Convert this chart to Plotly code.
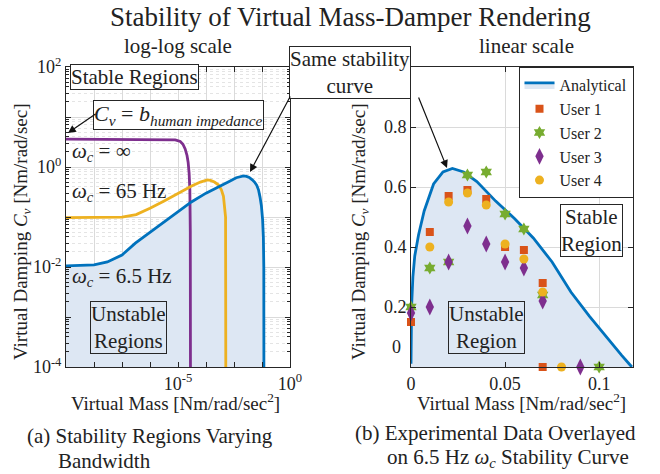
import plotly.graph_objects as go

W, H = 660, 474
FONT = "Liberation Serif"

# ---------------- data ----------------
# Left panel: stability boundaries (virtual mass vs. virtual damping)
mass_6p5hz = [1e-8, 3e-8, 1e-7, 3e-7, 1e-6, 3e-6, 1e-5, 3e-5, 1e-4, 3e-4, 1e-3, 2e-3,
              4e-3, 7e-3, 0.012, 0.017, 0.022, 0.028, 0.035, 0.045, 0.055, 0.065, 0.075,
              0.085, 0.095, 0.105, 0.112, 0.116, 0.1174]
damp_6p5hz = [0.0105, 0.0106, 0.011, 0.0126, 0.0174, 0.030, 0.049, 0.079, 0.129, 0.2, 0.3, 0.37,
              0.44, 0.52, 0.61, 0.65, 0.662, 0.65, 0.618, 0.553, 0.495, 0.43, 0.35,
              0.25, 0.168, 0.09, 0.039, 0.01, 1e-5]

mass_65hz = [1e-8, 1e-7, 1e-6, 3.2e-6, 1e-5, 3.2e-5, 1e-4, 3.2e-4, 6.3e-4, 8.5e-4, 1.12e-3,
             1.45e-3, 2e-3, 2.75e-3, 3.55e-3, 4.2e-3, 4.7e-3, 5.0e-3, 5.12e-3]
damp_65hz = [0.097, 0.097, 0.099, 0.112, 0.15, 0.21, 0.30, 0.42, 0.50, 0.535, 0.55,
             0.54, 0.50, 0.44, 0.35, 0.26, 0.16, 0.10, 1e-5]

mass_inf = [1e-8, 1e-6, 4e-5, 8e-5, 1.2e-4, 1.5e-4, 1.8e-4, 2.1e-4, 2.3e-4, 2.5e-4, 2.65e-4,
            2.75e-4, 2.8e-4]
damp_inf = [3.6, 3.6, 3.6, 3.5, 3.25, 2.85, 2.3, 1.7, 1.25, 0.75, 0.35, 0.05, 1e-5]

# Right panel: experimental data
user1_mass = [0, 0.01, 0.02, 0.03, 0.04, 0.05, 0.06, 0.07, 0.07]
user1_damp = [0.15, 0.45, 0.57, 0.59, 0.56, 0.40, 0.39, 0.28, 0]
user2_mass = [0, 0.01, 0.02, 0.03, 0.04, 0.05, 0.06, 0.07, 0.1]
user2_damp = [0.20, 0.33, 0.35, 0.64, 0.65, 0.51, 0.46, 0.24, 0]
user3_mass = [0, 0.01, 0.02, 0.03, 0.04, 0.05, 0.06, 0.07, 0.09]
user3_damp = [0.18, 0.20, 0.35, 0.47, 0.41, 0.35, 0.33, 0.22, 0]
user4_mass = [0.01, 0.02, 0.03, 0.04, 0.05, 0.06, 0.07, 0.08]
user4_damp = [0.40, 0.55, 0.58, 0.54, 0.41, 0.36, 0.25, 0]

# tick labels
left_y_tickvals = [1e-4, 1e-3, 1e-2, 1e-1, 1e0, 1e1, 1e2]
left_y_ticktext = ["10<sup>-4</sup>", "", "10<sup>-2</sup>", "", "10<sup>0</sup>", "", "10<sup>2</sup>"]
left_x_tickvals = [1e-8, 1e-7, 1e-6, 1e-5, 1e-4, 1e-3, 1e-2, 1e-1, 1e0]
left_x_ticktext = ["", "", "", "", "10<sup>-5</sup>", "", "", "", "10<sup>0</sup>"]
right_x_tickvals = [0, 0.05, 0.1]
right_x_ticktext = ["0", "0.05", "0.1"]
right_y_tickvals = [0, 0.2, 0.4, 0.6, 0.8, 1.0]
right_y_ticktext = ["", "0.2", "0.4", "0.6", "0.8", ""]

# colours
BLUE, ORANGE, YELLOW, PURPLE, GREEN = "#0072BD", "#D95319", "#EDB120", "#7E2F8E", "#77AC30"
SHADE = "#dde7f3"
AXC = "#262626"
GRID = "#dadada"


def px(x):
    return x / W


def py(y):
    return 1 - y / H


fig = go.Figure()

# ---- left panel ----
fig.add_trace(go.Scatter(x=mass_6p5hz, y=damp_6p5hz, mode="lines", fill="tozeroy",
                         fillcolor=SHADE, line=dict(color="rgba(0,0,0,0)", width=0),
                         xaxis="x", yaxis="y", showlegend=False, hoverinfo="skip"))
fig.add_trace(go.Scatter(x=mass_inf, y=damp_inf, mode="lines", line=dict(color=PURPLE, width=2.8),
                         xaxis="x", yaxis="y", showlegend=False))
fig.add_trace(go.Scatter(x=mass_65hz, y=damp_65hz, mode="lines", line=dict(color=YELLOW, width=2.8),
                         xaxis="x", yaxis="y", showlegend=False))
fig.add_trace(go.Scatter(x=mass_6p5hz, y=damp_6p5hz, mode="lines", line=dict(color=BLUE, width=2.8),
                         xaxis="x", yaxis="y", showlegend=False))

# ---- right panel ----
fig.add_trace(go.Scatter(x=mass_6p5hz, y=damp_6p5hz, mode="lines", fill="tozeroy",
                         fillcolor=SHADE, line=dict(color=BLUE, width=2.8),
                         xaxis="x2", yaxis="y2", name="Analytical"))
for name, xs, ys, sym, col, size in [
    ("User 1", user1_mass, user1_damp, "square", ORANGE, 8),
    ("User 2", user2_mass, user2_damp, "hexagram", GREEN, 10),
    ("User 3", user3_mass, user3_damp, "diamond-tall", PURPLE, 12),
    ("User 4", user4_mass, user4_damp, "circle", YELLOW, 9),
]:
    fig.add_trace(go.Scatter(x=xs, y=ys, mode="markers", name=name, cliponaxis=False,
                             marker=dict(symbol=sym, color=col, size=size, line=dict(width=0)),
                             xaxis="x2", yaxis="y2"))

axis_common = dict(showline=True, linecolor=AXC, linewidth=1, mirror="ticks", ticks="inside",
                   ticklen=5, tickcolor=AXC, showgrid=True, gridcolor=GRID, zeroline=False,
                   tickfont=dict(family=FONT, size=18, color="#222"), automargin=False)

fig.update_layout(
    width=W, height=H, margin=dict(l=0, r=0, t=0, b=0),
    paper_bgcolor="white", plot_bgcolor="white",
    font=dict(family=FONT, color="#222"),
    xaxis=dict(type="log", range=[-8, 0], domain=[px(66), px(290)], anchor="y",
               tickmode="array", tickvals=left_x_tickvals, ticktext=left_x_ticktext, **axis_common),
    yaxis=dict(type="log", range=[-4, 2], domain=[py(367), py(67)], anchor="x",
               tickmode="array", tickvals=left_y_tickvals, ticktext=left_y_ticktext,
               minor=dict(ticks="inside", ticklen=3, tickcolor=AXC, showgrid=True,
                          gridcolor="#e4e4e4", griddash="dot", dtick="D1"),
               **axis_common),
    xaxis2=dict(range=[0, 0.118], domain=[px(411), px(633)], anchor="y2",
                tickmode="array", tickvals=right_x_tickvals, ticktext=right_x_ticktext, **axis_common),
    yaxis2=dict(range=[0, 1], domain=[py(367), py(67)], anchor="x2",
                tickmode="array", tickvals=right_y_tickvals, ticktext=right_y_ticktext, **axis_common),
    legend=dict(x=px(633.5), y=py(67), xanchor="right", yanchor="top", bgcolor="white",
                bordercolor=AXC, borderwidth=1, font=dict(family=FONT, size=16, color="#222"),
                itemwidth=30, tracegroupgap=0),
)


def text(t, x, y, size=21, xanchor="center", yanchor="middle", angle=0, **kw):
    d = dict(text=t, x=px(x), y=py(y), xref="paper", yref="paper", showarrow=False,
             xanchor=xanchor, yanchor=yanchor, textangle=angle,
             font=dict(family=FONT, size=size, color="#222"))
    d.update(kw)
    return d


def box(t, x, y, size=21, bg="white", **kw):
    return text(t, x, y, size=size, bgcolor=bg, bordercolor=AXC, borderwidth=1, borderpad=0, **kw)


def arrow(x0, y0, x1, y1):
    return dict(text="", x=px(x1), y=py(y1), xref="paper", yref="paper", showarrow=True,
                ax=x0 - x1, ay=y0 - y1, axref="pixel", ayref="pixel", arrowhead=2,
                arrowsize=1.3, arrowwidth=1.2, arrowcolor="#111", standoff=0)


annotations = [
    text("Stability of Virtual Mass-Damper Rendering", 350, 17, size=27),
    text("log-log scale", 178, 46, size=21),
    text("linear scale", 526, 46, size=21),
    # axis titles
    text("Virtual Mass [Nm/rad/sec<sup>2</sup>]", 175, 402, size=19),
    text("Virtual Mass [Nm/rad/sec<sup>2</sup>]", 521, 402, size=19),
    text("Virtual Damping <i>C</i><sub><i>v</i></sub> [Nm/rad/sec]", 22, 232, size=19, angle=-90),
    text("Virtual Damping <i>C</i><sub><i>v</i></sub> [Nm/rad/sec]", 360, 232, size=19, angle=-90),
    text("0", 396, 347, size=18),
    # captions
    text("(a) Stability Regions Varying", 25, 436, size=21, xanchor="left"),
    text("Bandwidth", 56, 461, size=21, xanchor="left"),
    text("(b) Experimental Data Overlayed", 353, 433, size=21, xanchor="left"),
    text("on 6.5 Hz <i>ω</i><sub><i>c</i></sub> Stability Curve", 385, 458, size=21, xanchor="left"),
    # left panel labels
    box("Stable Regions", 134, 77, size=21),
    box("<i>C</i><sub><i>v</i></sub> = <i>b</i><sub><i>human impedance</i></sub>", 178, 115, size=22),
    box("Unstable<br>Regions", 128, 327, size=21, bg=SHADE),
    text("<i>ω</i><sub><i>c</i></sub> = ∞", 70, 152, size=21, xanchor="left"),
    text("<i>ω</i><sub><i>c</i></sub> = 65 Hz", 70, 192, size=21, xanchor="left"),
    text("<i>ω</i><sub><i>c</i></sub> = 6.5 Hz", 70, 277, size=21, xanchor="left"),
    # shared callout
    box("Same stability<br>curve", 350, 72, size=21),
    # right panel labels
    box("Stable<br>Region", 591, 230, size=21),
    box("Unstable<br>Region", 486, 327, size=21, bg=SHADE),
    # arrows
    arrow(97, 113, 68, 133),
    arrow(291, 95, 250, 172),
    arrow(418, 96, 447, 168),
]
fig.update_layout(annotations=annotations)

fig.write_html("out.html", config={"displayModeBar": False},
               post_script="document.body.style.margin='0px';document.body.style.overflow='hidden';")
